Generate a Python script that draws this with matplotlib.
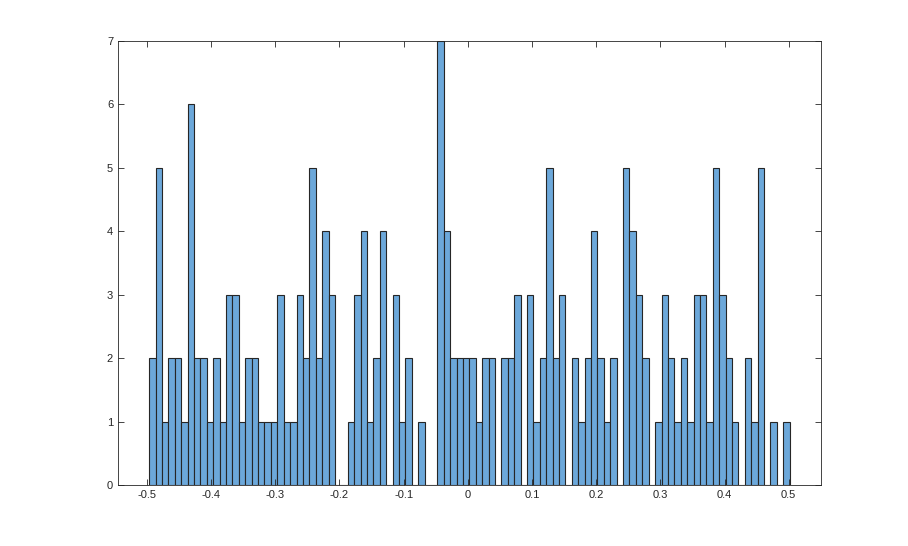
import numpy as np
import matplotlib.pyplot as plt

counts = [2, 5, 1, 2, 2, 1, 6, 2, 2, 1, 2, 1, 3, 3, 1, 2, 2, 1, 1, 1,
          3, 1, 1, 3, 2, 5, 2, 4, 3, 0, 0, 1, 3, 4, 1, 2, 4, 0, 3, 1,
          2, 0, 1, 0, 0, 7, 4, 2, 2, 2, 2, 1, 2, 2, 0, 2, 2, 3, 0, 3,
          1, 2, 5, 2, 3, 0, 2, 1, 2, 4, 2, 1, 2, 0, 5, 4, 3, 2, 0, 1,
          3, 2, 1, 2, 1, 3, 3, 1, 5, 3, 2, 1, 0, 2, 1, 5, 0, 1, 0, 1]
edges = np.linspace(-0.4964, 0.5013, len(counts) + 1)

plt.rcParams['font.family'] = ['Liberation Sans', 'DejaVu Sans']
fig = plt.figure(figsize=(9.08, 5.46), dpi=100)
ax = fig.add_axes([0.130, 0.1117, 0.774, 0.8133])

ax.bar(edges[:-1], counts, width=np.diff(edges), align='edge',
       color='#6CA8DA', edgecolor='#262626', linewidth=0.8)

ax.set_xlim(-0.545, 0.55)
ax.set_ylim(0, 7)
ax.set_xticks(np.round(np.arange(-0.5, 0.51, 0.1), 1))
ax.set_xticklabels(['-0.5', '-0.4', '-0.3', '-0.2', '-0.1', '0', '0.1', '0.2', '0.3', '0.4', '0.5'])
ax.set_yticks(range(8))
ax.tick_params(direction='in', top=True, right=True, labelsize=8, length=4, width=0.6, colors='#262626')
for s in ax.spines.values():
    s.set_linewidth(0.6)
    s.set_color('#262626')

fig.savefig('out.png', dpi=100)
